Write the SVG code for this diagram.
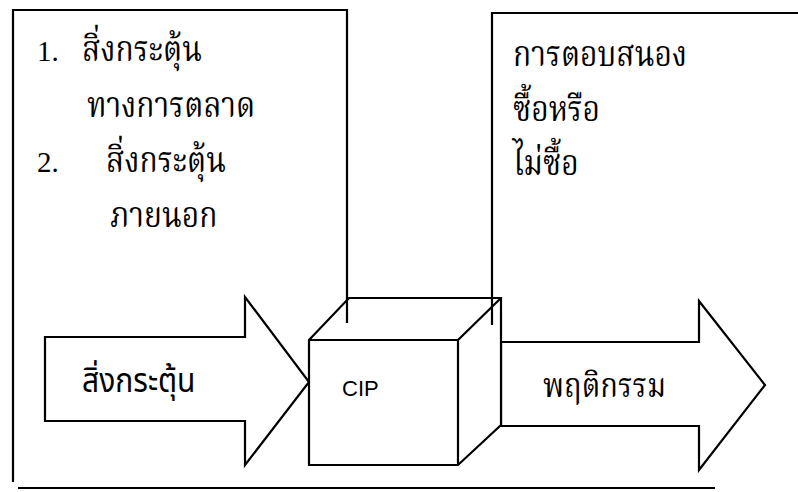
<svg xmlns="http://www.w3.org/2000/svg" width="798" height="492" viewBox="0 0 798 492">
<style>
.ln{fill:none;stroke:#000;stroke-width:2.2;stroke-linejoin:miter}
.sh{fill:#fff;stroke:#000;stroke-width:2.2;stroke-linejoin:miter}
.th{font-family:"Noto Serif Thai","Noto Sans Thai","Norasi","Loma",serif;font-size:30px;fill:#000}
.ts{font-family:"Noto Sans Thai","Loma","Garuda",sans-serif;font-size:30px;fill:#000}
.num{font-family:"Liberation Serif",serif;font-size:29px;fill:#000}
.cip{font-family:"Liberation Sans",Arial,sans-serif;font-size:22px;fill:#000}
</style>
<rect width="798" height="492" fill="#fff"/>
<g id="frame">
<path class="ln" d="M13,482 V10 H347 V323"/>
<path class="ln" d="M492,325 V13 H798"/>
<path class="ln" d="M18,488 H715"/>
</g>
<g id="stimulus-box">
<text class="num" x="37" y="61">1.</text>
<text class="th" transform="translate(82,61) scale(1,1.18)">สิ่งกระตุ้น</text>
<text class="th" transform="translate(87,117) scale(1,1.18)">ทางการตลาด</text>
<text class="num" x="37" y="172">2.</text>
<text class="th" transform="translate(106,172) scale(1,1.18)">สิ่งกระตุ้น</text>
<text class="th" transform="translate(110,227) scale(1,1.18)">ภายนอก</text>
</g>
<g id="response-box">
<text class="th" transform="translate(513,66) scale(1,1.18)">การตอบสนอง</text>
<text class="th" transform="translate(513,121) scale(1,1.18)">ซื้อหรือ</text>
<text class="th" transform="translate(513,175) scale(1,1.18)">ไม่ซื้อ</text>
</g>
<g id="connectors">
<g id="arrow-in">
<path class="sh" d="M45,337 H245 V297 L309,382 L245,465 V421 H45 Z"/>
<text class="ts" transform="translate(82,392) scale(1,1.12)">สิ่งกระตุ้น</text>
</g>
<g id="arrow-out">
<path class="sh" d="M501,342 H699 V301 L765,385 L699,470 V426 H501 Z"/>
<text class="th" transform="translate(543,397) scale(0.97,1.15)">พฤติกรรม</text>
</g>
</g>
<g id="cip">
<path class="sh" d="M309,340 L349,298 H501 V425 L458,465 H309 Z"/>
<path class="ln" d="M309,340 H458 V465 M458,340 L501,298"/>
<text class="cip" x="342" y="396">CIP</text>
</g>
<g id="leaders">
<path class="ln" d="M347,298 V323 M492,298 V325"/>
</g>
</svg>
